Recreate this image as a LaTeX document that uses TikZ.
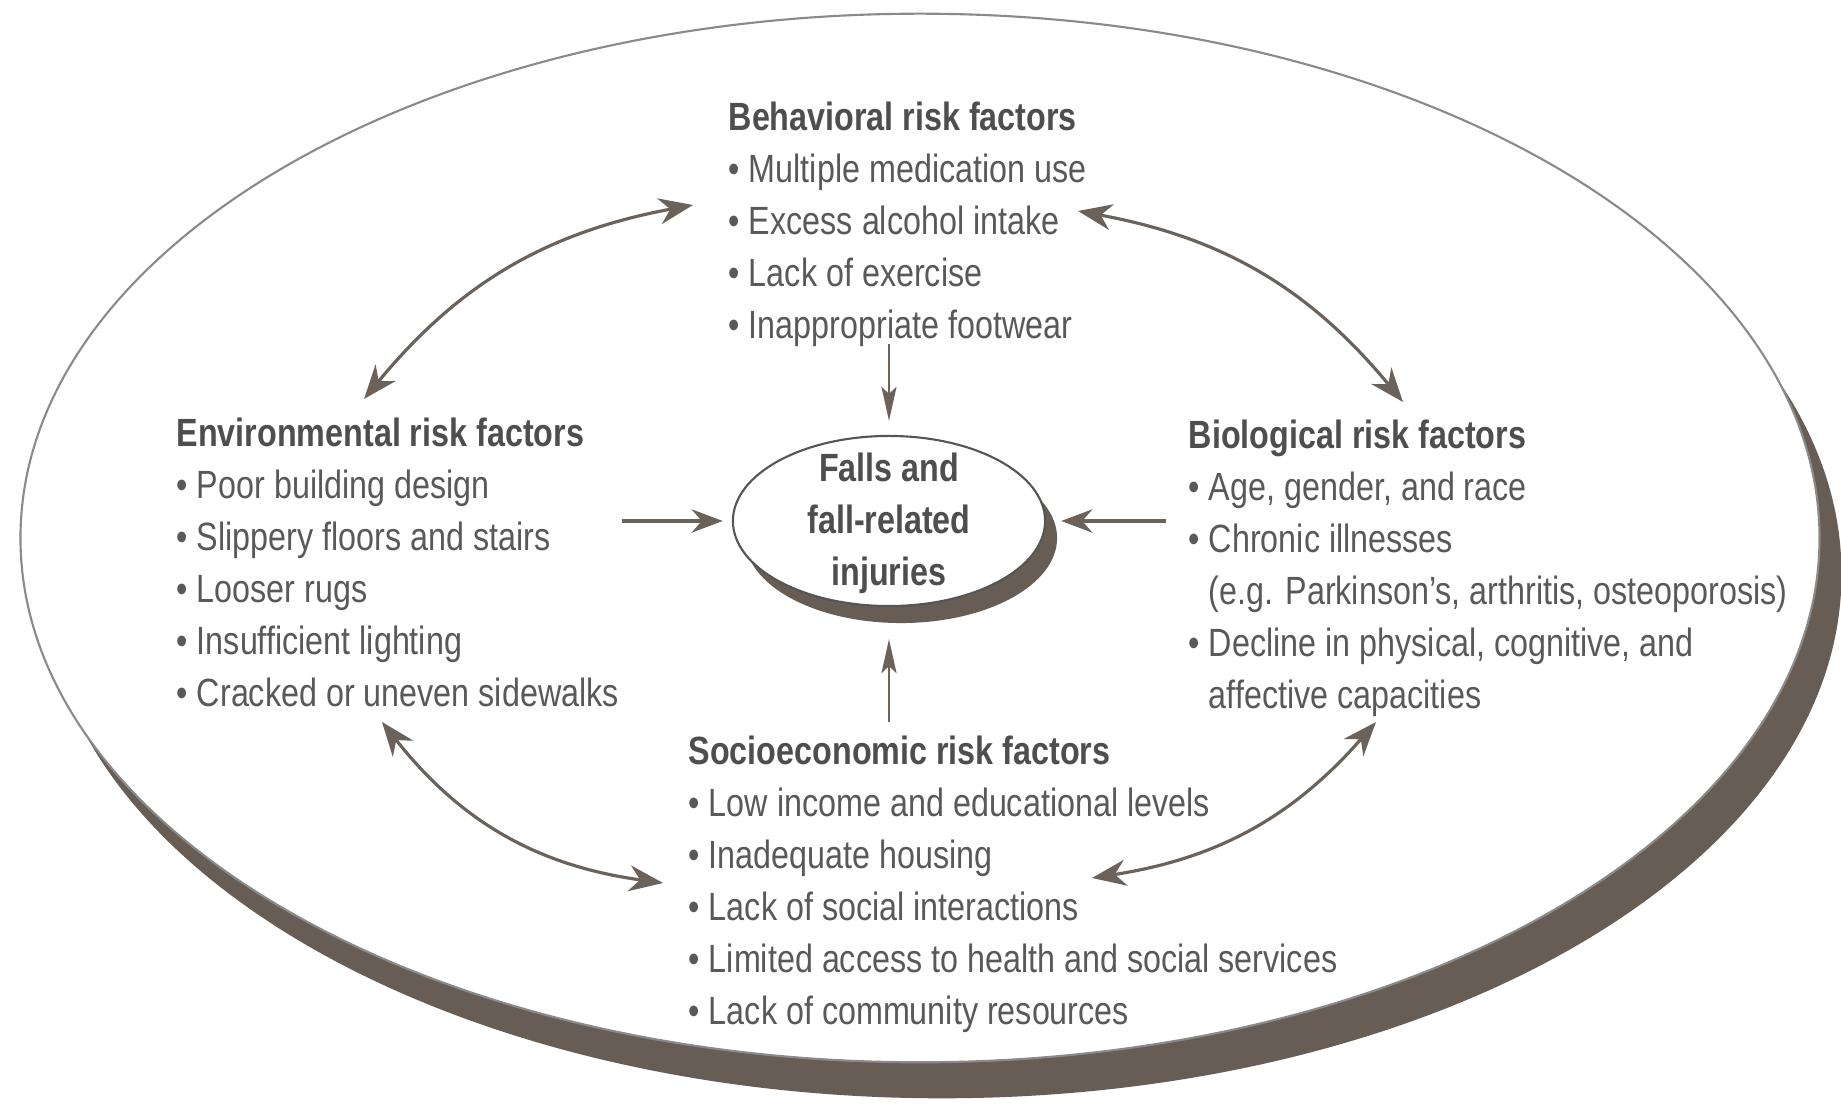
\documentclass[tikz,border=0pt]{standalone}
\usepackage{fontspec}
\setmainfont[FakeStretch=0.82]{Liberation Sans}
\usepackage{tikz}
\usetikzlibrary{arrows.meta,shapes.geometric,shadows}
\definecolor{txtgray}{HTML}{595959}
\definecolor{ttlgray}{HTML}{4E4E4E}
\definecolor{arrbrown}{HTML}{6A625B}
\definecolor{shdbrown}{HTML}{675D54}
\definecolor{ringgray}{HTML}{8A8A8A}
\definecolor{ringdark}{HTML}{555555}
\newcommand{\rbul}{\textbullet\ }
\newcommand{\rind}{\hphantom{\rbul}}
\tikzset{
  blk/.style      = {anchor=north west, align=left, inner sep=0pt,
                     text=txtgray, font=\fontsize{11.2}{14.8}\selectfont},
  bigring/.style  = {ellipse, draw=ringgray, line width=0.6pt, fill=white,
                     minimum width=17.98cm, minimum height=10.48cm, inner sep=0pt,
                     drop shadow={shadow xshift=0.22cm, shadow yshift=-0.36cm,
                                  fill=shdbrown, opacity=1}},
  fallsell/.style = {ellipse, draw=ringdark, line width=0.6pt, fill=white,
                     minimum width=3.12cm, minimum height=1.7cm, inner sep=0pt,
                     drop shadow={shadow xshift=0.12cm, shadow yshift=-0.17cm,
                                  fill=shdbrown, opacity=1}},
  fallstxt/.style = {align=center, inner sep=0pt, text=ttlgray,
                     font=\fontsize{11.2}{14.8}\selectfont\bfseries},
  arr/.style      = {draw=arrbrown, line width=1.3pt,
                     -{Stealth[length=3.1mm, width=2.3mm, inset=1mm]}},
  thinarr/.style  = {draw=arrbrown, line width=0.7pt,
                     -{Stealth[length=3.4mm, width=1.5mm, inset=0.7mm]}},
  darr/.style     = {draw=arrbrown, line width=0.9pt,
                     {Stealth[length=3.4mm, width=2.6mm, inset=1.1mm]}-{Stealth[length=3.4mm, width=2.6mm, inset=1.1mm]}},
}

\begin{document}
\begin{tikzpicture}[x=0.01cm,y=-0.01cm]
  \useasboundingbox (0,0) rectangle (1841,1104);
  \fill[white] (0,0) rectangle (1841,1104);

  \node[bigring] (ring) at (920,538) {};
  \node[fallsell] (falls) at (889,521) {};
  \node[fallstxt] (fallslab) at (889,523) {Falls and\\fall-related\\injuries};

  \node[blk] (beh) at (728,101) {\textbf{\color{ttlgray}Behavioral risk factors}\\
    \rbul Multiple medication use\\
    \rbul Excess alcohol intake\\
    \rbul Lack of exercise\\
    \rbul Inappropriate footwear};
  \node[blk] (env) at (176,417) {\textbf{\color{ttlgray}Environmental risk factors}\\
    \rbul Poor building design\\
    \rbul Slippery floors and stairs\\
    \rbul Looser rugs\\
    \rbul Insufficient lighting\\
    \rbul Cracked or uneven sidewalks};
  \node[blk] (bio) at (1188,419) {\textbf{\color{ttlgray}Biological risk factors}\\
    \rbul Age, gender, and race\\
    \rbul Chronic illnesses\\
    \rind (e.g. Parkinson’s, arthritis, osteoporosis)\\
    \rbul Decline in physical, cognitive, and\\
    \rind affective capacities};
  \node[blk] (soc) at (688,735) {\textbf{\color{ttlgray}Socioeconomic risk factors}\\
    \rbul Low income and educational levels\\
    \rbul Inadequate housing\\
    \rbul Lack of social interactions\\
    \rbul Limited access to health and social services\\
    \rbul Lack of community resources};

  \coordinate (behfoot) at (889,344);
  \coordinate (envside) at (622,521);
  \coordinate (bioside) at (1166,521);
  \coordinate (sochead) at (889,722);
  \draw[thinarr, shorten >=1.4mm] (behfoot) -- (falls.north);
  \draw[arr, shorten >=0.9mm] (envside) -- (falls.west);
  \draw[arr, shorten >=1.5mm] (bioside) -- (falls.east);
  \draw[thinarr, shorten >=3.2mm] (sochead) -- (falls.south);

  \coordinate (envtop) at (364,399);
  \coordinate (behleft) at (693,205);
  \coordinate (behright) at (1078,211);
  \coordinate (biotop) at (1403,402);
  \coordinate (biobot) at (1376,722);
  \coordinate (socright) at (1092,878);
  \coordinate (socleft) at (663,883);
  \coordinate (envbot) at (382,722);
  \draw[darr] (envtop) to[bend left=20] (behleft);
  \draw[darr] (behright) to[bend left=20] (biotop);
  \draw[darr] (biobot) to[bend left=20] (socright);
  \draw[darr] (socleft) to[bend left=22] (envbot);
\end{tikzpicture}
\end{document}
